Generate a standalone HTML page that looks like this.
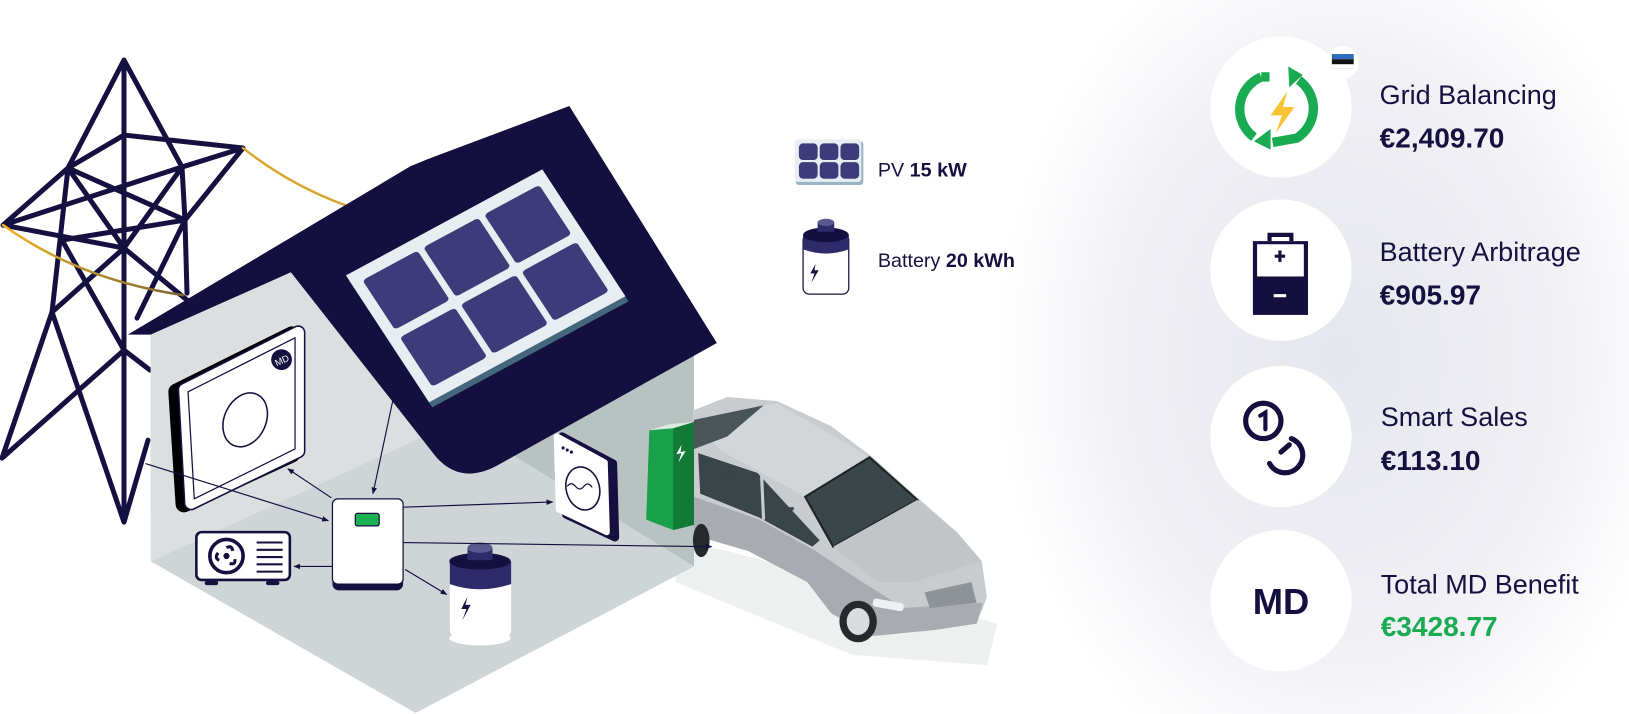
<!DOCTYPE html>
<html><head><meta charset="utf-8"><style>
html,body{margin:0;padding:0;background:#fff;overflow:hidden;width:1629px;height:714px}
svg{display:block;position:absolute;left:0;top:0}
text{font-family:"Liberation Sans",sans-serif;fill:#15103f}
</style></head><body>
<svg width="1629" height="714" viewBox="0 0 1568 687" preserveAspectRatio="none" xmlns="http://www.w3.org/2000/svg">
<defs>
<radialGradient id="glow" cx="0.5" cy="0.5" r="0.5">
<stop offset="0" stop-color="#e6e6ee"/><stop offset="0.6" stop-color="#efeff4"/><stop offset="1" stop-color="#ffffff"/>
</radialGradient>
<linearGradient id="wire" x1="0" y1="0" x2="1" y2="0"><stop offset="0" stop-color="#f0b428"/><stop offset="1" stop-color="#7a6433"/></linearGradient>
<marker id="ar" viewBox="0 0 10 10" refX="9" refY="5" markerWidth="6" markerHeight="6" orient="auto"><path d="M0,1 L10,5 L0,9 Z" fill="#15103f"/></marker>
</defs>
<rect width="1568" height="687" fill="#fff"/>
<ellipse cx="1290" cy="345" rx="330" ry="430" fill="url(#glow)"/>

<!-- tower -->
<g transform="scale(0.9625)" stroke="#15103f" stroke-width="5" stroke-linejoin="round" stroke-linecap="round" fill="none">
<path d="M124,60 L124,522 M124,60 L68,168 M124,60 L182,167 M124,135 L68,168 M124,135 L243,148 M182,167 L243,148 M243,148 L185,220 M68,168 L3,225 M3,225 L182,167 M3,225 L124,248 M68,168 L185,220 M68,168 L124,248 M182,167 L124,248 M185,220 L62,240 M124,248 L52,312 M62,240 L124,350 M68,168 L52,312 L2,458 M182,167 L185,220 L187,293 M124,248 L187,300 M185,220 L137,318 M52,312 L124,522 M2,458 L124,350 L150,370 M124,522 L148,440"/>
<path d="M3,225 Q80,280 183,295" stroke="url(#wire)" stroke-width="2.5"/>
<path d="M243,148 Q290,185 345,205" stroke="#d8a630" stroke-width="2.5"/>
</g>

<!-- car ground shadow -->
<polygon points="650,520 700,530 960,600 950,640 820,630 650,560" fill="#eef0f0"/>

<!-- house -->
<polygon points="145,540 400,686 668,545 440,405" fill="#cfd4d6"/>
<polygon points="145,322 280,262 440,405 145,540" fill="#dcdee0"/>
<polygon points="440,405 668,545 668,338 560,280" fill="#b8c2c1"/>
<path d="M123,322 L395,160 L412,153 L548,102 L690,330 L482,446 Q445,468 420,440 L280,262 L145,322 Z" fill="#140f3f"/>

<!-- solar panel -->
<g transform="matrix(189,-102,80,122,336,270)"><rect x="0" y="0" width="1" height="1" fill="#45677e"/></g>
<g transform="matrix(189,-102,80,122,333,265)">
<rect x="0" y="0" width="1" height="1" fill="#e8edf2"/>
<g fill="#3d3b7a">
<rect x="0.05" y="0.08" width="0.28" height="0.39" rx="0.02"/>
<rect x="0.36" y="0.08" width="0.28" height="0.39" rx="0.02"/>
<rect x="0.67" y="0.08" width="0.28" height="0.39" rx="0.02"/>
<rect x="0.05" y="0.53" width="0.28" height="0.39" rx="0.02"/>
<rect x="0.36" y="0.53" width="0.28" height="0.39" rx="0.02"/>
<rect x="0.67" y="0.53" width="0.28" height="0.39" rx="0.02"/>
</g></g>

<!-- MD wallbox -->
<polygon points="170,377 281,322 281,437 177,485" fill="#000" stroke="#000" stroke-width="16" stroke-linejoin="round"/>
<polygon points="178,375 287,320 287,434 184,484" fill="#fff" stroke="#15103f" stroke-width="14" stroke-linejoin="round"/>
<polygon points="178,375 287,320 287,434 184,484" fill="#fff" stroke="#fff" stroke-width="11" stroke-linejoin="round"/>
<polygon points="181,377 284,325 284,432 187,480" fill="none" stroke="#15103f" stroke-width="1.2" stroke-linejoin="round"/>
<ellipse cx="236" cy="404" rx="20" ry="27" transform="rotate(25 236 404)" fill="#fff" stroke="#15103f" stroke-width="1.5"/>
<circle cx="271" cy="346" r="10" fill="#15103f"/>
<text x="271" y="350" font-size="9" text-anchor="middle" style="fill:#fff" transform="rotate(-25 271 346)">MD</text>

<!-- AC unit -->
<rect x="189" y="512" width="90" height="46" rx="5" fill="#fff" stroke="#15103f" stroke-width="2.5"/>
<rect x="197" y="559" width="13" height="4" rx="2" fill="#15103f"/><rect x="256" y="559" width="13" height="4" rx="2" fill="#15103f"/>
<circle cx="218" cy="535" r="16" fill="none" stroke="#15103f" stroke-width="3.5"/>
<circle cx="218" cy="535" r="3" fill="#15103f"/>
<path d="M218,527 q5,-3 6,3 M226,538 q1,6 -5,4 M211,539 q-5,-2 -1,-7" stroke="#15103f" stroke-width="3" fill="none"/>
<g stroke="#15103f" stroke-width="2"><line x1="247" y1="522" x2="272" y2="522"/><line x1="247" y1="529" x2="272" y2="529"/><line x1="247" y1="536" x2="272" y2="536"/><line x1="247" y1="543" x2="272" y2="543"/><line x1="247" y1="550" x2="272" y2="550"/></g>

<!-- inverter -->
<rect x="320" y="482" width="68" height="86" rx="6" fill="#15103f"/>
<rect x="320" y="480" width="68" height="82" rx="5" fill="#fff" stroke="#15103f" stroke-width="1.2"/>
<rect x="342" y="494" width="23" height="12" rx="2" fill="#19b152" stroke="#15103f" stroke-width="1.2"/>

<!-- battery in house -->
<rect x="433" y="540" width="59" height="74" rx="8" fill="#fff"/>
<ellipse cx="462" cy="614" rx="29.5" ry="7" fill="#fff"/>
<path d="M433,540 L433,562 Q462,572 492,562 L492,540 Z" fill="#2f2a6a"/>
<ellipse cx="462" cy="540" rx="29.5" ry="8" fill="#140f3f"/>
<rect x="450" y="527" width="24" height="12" fill="#2f2a6a"/>
<ellipse cx="462" cy="527" rx="12" ry="5" fill="#5b5890"/>
<path d="M450,574 L444,586 L449,586 L445,597 L453,582 L448,582 Z" fill="#15103f"/>

<!-- meter -->
<path d="M541,420 L590,446 L592,517 L545,495 Z" fill="#15103f" stroke="#15103f" stroke-width="8" stroke-linejoin="round"/>
<path d="M536,420 L582,445 L584,512 L538,490 Z" fill="#fff" stroke="#fff" stroke-width="6" stroke-linejoin="round"/>
<ellipse cx="561" cy="470" rx="16" ry="21" transform="rotate(-15 561 470)" fill="none" stroke="#15103f" stroke-width="1.5"/>
<path d="M546,468 q4,-5 8,0 q4,5 8,0 q4,-5 8,1" fill="none" stroke="#15103f" stroke-width="1.2"/>
<circle cx="542" cy="431" r="1.5" fill="#15103f"/><circle cx="546" cy="433" r="1.5" fill="#15103f"/><circle cx="550" cy="435" r="1.5" fill="#15103f"/>

<!-- car -->
<path d="M667,395 L700,382 L748,386 L800,410 L840,440 L880,476 L921,512 L945,540 L950,575 L940,600 L900,606 L860,610 L840,612 L800,590 L777,560 L720,530 L668,515 Z" fill="#c9cccf"/>
<path d="M668,478 L731,500 L785,530 L830,560 L870,585 L946,580 L940,600 L900,606 L860,610 L840,612 L800,590 L777,560 L720,530 L668,515 Z" fill="#a8acb0"/>
<path d="M668,404 L748,388 L837,440 L775,478 L693,433 Z" fill="#d3d6d8"/>
<path d="M668,404 L735,390 L700,420 L668,432 Z" fill="#4a5459"/>
<path d="M672,436 L729,455 L789,520 L782,526 L731,498 L674,475 Z" fill="#3a4449"/>
<line x1="733" y1="456" x2="735" y2="500" stroke="#c9cccf" stroke-width="3"/>
<path d="M775,478 L837,440 L883,481 L802,526 Z" fill="#3c4649" stroke="#1d2427" stroke-width="2"/>
<path d="M802,526 L883,481 L921,512 L945,540 L880,560 L845,560 Z" fill="#c2c5c8"/>
<rect x="840" y="578" width="30" height="8" rx="3" fill="#eef0f1" transform="rotate(10 855 582)"/>
<path d="M890,570 L935,560 L940,580 L895,585 Z" fill="#8e9398"/>
<ellipse cx="826" cy="598" rx="18" ry="20" fill="#25292c"/>
<ellipse cx="826" cy="598" rx="11" ry="13" fill="#d9dbdd"/>
<ellipse cx="675" cy="520" rx="8" ry="16" fill="#25292c"/>
<rect x="700" y="457" width="8" height="3" fill="#3a4449"/>
<rect x="756" y="488" width="8" height="3" fill="#3a4449"/>

<!-- green charger -->
<polygon points="625,414 648,410 668,406 668,505 648,510 622,500" fill="#19a04a"/>
<polygon points="648,410 668,406 668,505 648,510" fill="#137a35"/>
<polygon points="625,414 645,408 668,406 648,412" fill="#dfe8e2"/>
<path d="M656,428 L651,437 L656,436 L653,445 L660,434 L655,435 Z" fill="#fff"/>

<!-- connectors -->
<g stroke="#15103f" stroke-width="1.1" fill="none" marker-end="url(#ar)">
<line x1="140" y1="446" x2="316" y2="501"/>
<line x1="319" y1="479" x2="277" y2="451"/>
<line x1="385" y1="353" x2="359" y2="475"/>
<line x1="388" y1="488" x2="532" y2="483"/>
<line x1="388" y1="522" x2="685" y2="526"/>
<line x1="320" y1="545" x2="283" y2="545"/>
<line x1="390" y1="548" x2="430" y2="572"/>
</g>

<!-- legend -->
<g>
<rect x="766" y="136" width="65" height="42" rx="3" fill="#9bb3c4"/>
<rect x="765" y="134" width="64" height="41" rx="3" fill="#e6edf3"/>
<g fill="#3d3b7a">
<rect x="769" y="138" width="18" height="16" rx="4"/><rect x="789" y="138" width="18" height="16" rx="4"/><rect x="809" y="138" width="18" height="16" rx="4"/>
<rect x="769" y="156" width="18" height="16" rx="4"/><rect x="789" y="156" width="18" height="16" rx="4"/><rect x="809" y="156" width="18" height="16" rx="4"/>
</g>
<text x="845" y="170" font-size="19">PV <tspan font-weight="bold">15 kW</tspan></text>
<rect x="773" y="225" width="44" height="58" rx="6" fill="#fff" stroke="#15103f" stroke-width="1.2"/>
<path d="M773,226 L773,240 Q795,248 817,240 L817,226 Z" fill="#2f2a6a"/>
<ellipse cx="795" cy="226" rx="22" ry="7" fill="#140f3f"/>
<rect x="787" y="214" width="16" height="9" fill="#2f2a6a"/>
<ellipse cx="795" cy="214" rx="8" ry="3.5" fill="#5b5890"/>
<path d="M785,254 L780,263 L784,263 L781,272 L788,260 L784,260 Z" fill="#15103f"/>
<text x="845" y="257" font-size="19">Battery <tspan font-weight="bold">20 kWh</tspan></text>
</g>

<!-- right panel -->
<g>
<circle cx="1233" cy="103" r="68" fill="#fff"/>
<circle cx="1233" cy="260" r="68" fill="#fff"/>
<circle cx="1233" cy="420" r="68" fill="#fff"/>
<circle cx="1233" cy="578" r="68" fill="#fff"/>
<circle cx="1292" cy="60" r="16" fill="#fff"/>
<rect x="1282" y="52" width="21" height="5" fill="#2d6bbd"/><rect x="1282" y="57" width="21" height="5" fill="#111"/><rect x="1282" y="62" width="21" height="4" fill="#fff" stroke="#ddd" stroke-width="0.5"/>
<path d="M1214,74 A35,34 0 0 0 1207,132" fill="none" stroke="#1aab52" stroke-width="9"/>
<path d="M1250,77 A35,34 0 0 1 1248,133 L1225,137" fill="none" stroke="#1aab52" stroke-width="9"/>
<path d="M1214,74 L1222,74" stroke="#1aab52" stroke-width="9"/>
<polygon points="1240,64 1254,72 1241,84" fill="#1aab52"/>
<polygon points="1223,144 1207,136 1223,124" fill="#1aab52"/>
<path d="M1239,88 L1223,111 L1234,111 L1228,128 L1246,103 L1235,103 Z" fill="#f8c233"/>
<rect x="1206" y="232" width="53" height="71" fill="#140f3f"/>
<rect x="1210" y="235" width="45" height="31" fill="#fff"/>
<path d="M1222,232 L1222,226 L1243,226 L1243,232" fill="none" stroke="#140f3f" stroke-width="4"/>
<rect x="1227" y="245" width="10" height="3" fill="#140f3f"/><rect x="1230.5" y="241" width="3" height="11" fill="#140f3f"/>
<rect x="1226" y="283" width="12" height="3" fill="#fff"/>
<circle cx="1216" cy="405" r="17" fill="none" stroke="#140f3f" stroke-width="5"/>
<path d="M1213,400 L1218,397 L1218,413" fill="none" stroke="#140f3f" stroke-width="4" stroke-linecap="round"/>
<path d="M1243,422 A17,17 0 1 1 1222,446" fill="none" stroke="#140f3f" stroke-width="5" stroke-linecap="round"/>
<path d="M1233,435 L1241,428" stroke="#140f3f" stroke-width="5" stroke-linecap="round"/>
<text x="1233" y="591" font-size="35" font-weight="bold" text-anchor="middle" style="fill:#140f3f">MD</text>
<text x="1328" y="100" font-size="26">Grid Balancing</text>
<text x="1328" y="142" font-size="27" font-weight="bold">€2,409.70</text>
<text x="1328" y="251" font-size="26">Battery Arbitrage</text>
<text x="1328" y="293" font-size="27" font-weight="bold">€905.97</text>
<text x="1329" y="410" font-size="26">Smart Sales</text>
<text x="1329" y="452" font-size="27" font-weight="bold">€113.10</text>
<text x="1329" y="571" font-size="26">Total MD Benefit</text>
<text x="1329" y="612" font-size="27" font-weight="bold" style="fill:#1aab52">€3428.77</text>
</g>
</svg>
</body></html>
